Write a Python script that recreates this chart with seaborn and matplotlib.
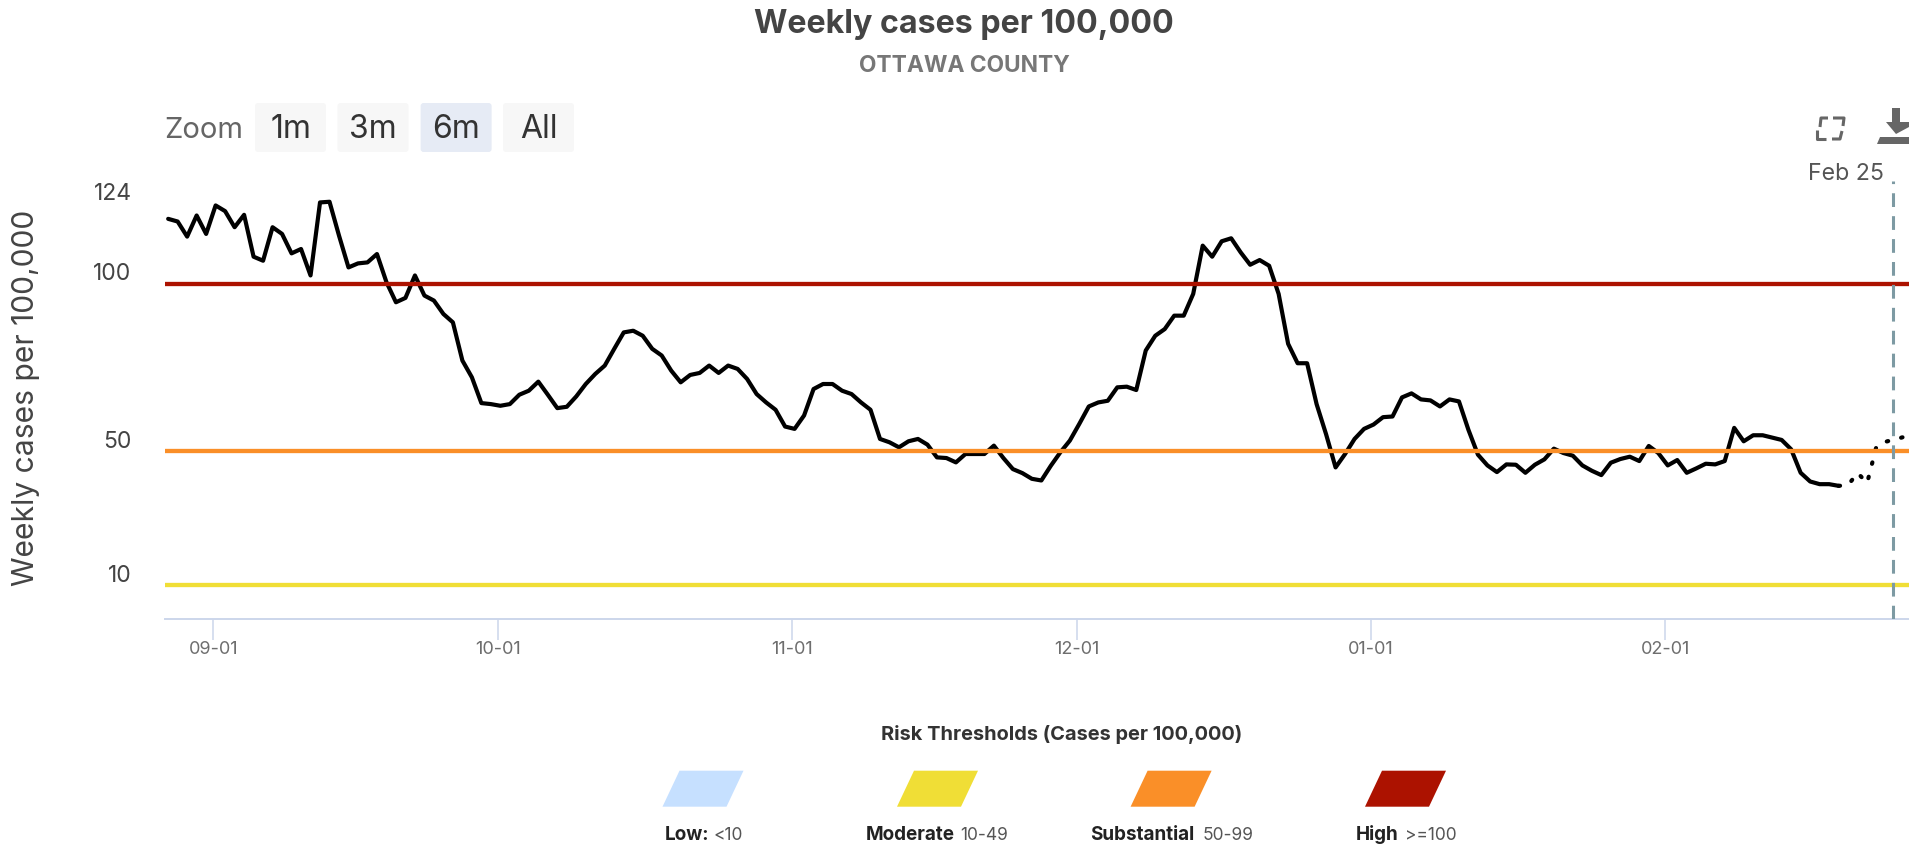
"""Weekly cases per 100,000 for Ottawa County, with risk thresholds."""

import matplotlib

matplotlib.use("Agg")

import matplotlib.dates as mdates
import matplotlib.pyplot as plt
import matplotlib.transforms as mtransforms
import pandas as pd
import seaborn as sns
from matplotlib.patches import FancyBboxPatch, Polygon

# daily values from Aug 27
cases = [
    119.3, 118.5, 114.0, 120.3, 114.8, 123.3, 121.6, 116.8, 120.5, 108.0,
    106.8, 116.8, 114.8, 109.0, 110.3, 102.4, 124.2, 124.4, 114.3, 104.8,
    106.0, 106.3, 108.8, 100.4, 94.4, 95.7, 102.4, 96.4, 94.9, 90.9,
    88.4, 77.0, 72.0, 64.3, 64.0, 63.5, 64.0, 66.8, 68.0, 70.7,
    66.8, 62.8, 63.2, 66.3, 70.0, 73.0, 75.5, 80.5, 85.4, 85.9,
    84.4, 80.5, 78.5, 74.0, 70.5, 72.7, 73.3, 75.5, 73.3, 75.5,
    74.5, 71.5, 67.0, 64.5, 62.3, 57.3, 56.6, 60.6, 68.5, 70.0,
    70.0, 68.0, 67.0, 64.5, 62.3, 53.6, 52.6, 51.1, 52.9, 53.6,
    51.9, 48.1, 47.9, 46.6, 49.1, 49.1, 49.1, 51.6, 47.9, 44.6,
    43.4, 41.7, 41.2, 45.6, 49.6, 53.1, 58.1, 63.3, 64.5, 65.0,
    69.0, 69.2, 68.2, 80.0, 84.4, 86.4, 90.4, 90.4, 96.9, 111.3,
    108.0, 112.6, 113.5, 109.3, 105.6, 107.0, 105.3, 96.9, 82.0, 76.2,
    76.2, 64.0, 55.0, 45.1, 49.1, 53.6, 56.6, 57.9, 60.1, 60.3,
    66.0, 67.2, 65.4, 65.1, 63.3, 65.4, 64.8, 56.3, 48.9, 45.7,
    43.7, 46.0, 45.9, 43.5, 45.9, 47.5, 50.7, 49.4, 48.6, 45.7,
    44.1, 42.8, 46.5, 47.6, 48.3, 47.0, 51.5, 49.4, 45.7, 47.3,
    43.5, 44.8, 46.2, 46.0, 47.0, 56.9, 52.9, 54.7, 54.7, 54.0,
    53.3, 50.5, 43.5, 40.9, 40.1, 40.1, 39.6,
]
projected = [39.6, 39.8, 43.5, 40.4, 51.5, 52.8, 53.5, 54.3]

threshold_values = [100, 50, 10]
threshold_colors = ["#ac1200", "#fa8f28", "#f0de36"]
y_ticks = [10, 50, 100, 124]
x_ticks = ["2020-09-01", "2020-10-01", "2020-11-01", "2020-12-01", "2021-01-01", "2021-02-01"]

zoom_buttons = ["1m", "3m", "6m", "All"]
legend_names = ["Low:", "Moderate", "Substantial", "High"]
legend_ranges = ["<10", "10-49", "50-99", ">=100"]
legend_colors = ["#c6e0ff", "#f0de36", "#fa8f28", "#ac1200"]

W, H = 1909, 844
AX_LEFT, AX_BOTTOM, AX_TOP = 165, 618.5, 181


def draw_chart(fig):
    ax = fig.add_axes([AX_LEFT / W, 1 - AX_BOTTOM / H, (W - AX_LEFT) / W, (AX_BOTTOM - AX_TOP) / H])

    solid = pd.DataFrame({
        "date": pd.date_range("2020-08-27 06:00", periods=len(cases)),
        "cases": cases,
    })
    dotted = pd.DataFrame({
        "date": pd.date_range(solid["date"].iloc[-1], periods=len(projected)),
        "cases": projected,
    })
    sns.lineplot(data=solid, x="date", y="cases", ax=ax, color="black", lw=3, zorder=2)
    sns.lineplot(
        data=dotted, x="date", y="cases", ax=ax, color="black", lw=3, zorder=2,
        linestyle=(0, (0.35, 3.2)), dash_capstyle="round",
    )

    for value, color in zip(threshold_values, threshold_colors):
        ax.axhline(value, color=color, lw=3.1, zorder=3)
    ax.axvline(pd.Timestamp("2021-02-25"), color="#7d9aa3", lw=2.2, linestyle=(0, (4.5, 3)), zorder=4)

    ax.set_xlim(pd.Timestamp("2020-08-26 22:00"), pd.Timestamp("2021-02-26 16:00"))
    ax.set_ylim(0, (AX_BOTTOM - AX_TOP) / 3.35)
    ax.set_xticks(pd.to_datetime(x_ticks))
    ax.xaxis.set_major_formatter(mdates.DateFormatter("%m-%d"))
    ax.set_yticks(y_ticks)
    ax.set_xlabel("")
    ax.set_ylabel("")
    ax.set_facecolor("none")

    sns.despine(ax=ax, left=True)
    ax.spines["bottom"].set_color("#ccd6eb")
    ax.spines["bottom"].set_linewidth(1.4)
    ax.tick_params(axis="x", bottom=True, length=15, width=1.1, color="#ccd6eb",
                   labelcolor="#6e6e6e", labelsize=13, pad=1)
    ax.tick_params(axis="y", length=0, labelcolor="#444444", labelsize=16.5, pad=24)

    # labels sit above their value, as in the original
    lift = mtransforms.ScaledTranslation(0, 12 / 100, fig.dpi_scale_trans)
    for label in ax.get_yticklabels():
        label.set_transform(label.get_transform() + lift)
    return ax


def draw_header(ui):
    ui.text(964, 24, "Weekly cases per 100,000", ha="center", va="center",
            fontsize=23.2, fontweight="bold", color="#444444")
    ui.text(964, 65.5, "OTTAWA COUNTY", ha="center", va="center",
            fontsize=16.4, fontweight="bold", color="#777777")
    ui.text(26, 398, "Weekly cases per 100,000", rotation=90, ha="center", va="center",
            fontsize=21.6, color="#444444")

    ui.text(164.5, 130, "Zoom", ha="left", va="center", fontsize=21, color="#666666")
    lefts = [255, 337.5, 420.6, 503]
    for left, name in zip(lefts, zoom_buttons):
        fill = "#e6ebf5" if name == "6m" else "#f7f7f7"
        ui.add_patch(FancyBboxPatch((left + 3, 106), 65, 43, boxstyle="round,pad=3", fc=fill, ec="none"))
        ui.text(left + 35.5, 130, name, ha="center", va="center", fontsize=23, color="#333333")

    ui.text(1884, 174, "Feb 25", ha="right", va="center", fontsize=16.7, color="#555555")


def draw_icons(ui):
    grey = "#666666"
    corners = [
        ([1820, 1821, 1828], [127, 118, 118]),
        ([1833, 1844, 1843], [118, 118, 126]),
        ([1817, 1817, 1826], [130, 139, 139]),
        ([1832, 1840, 1842], [139, 139, 131]),
    ]
    for xs, ys in corners:
        ui.plot(xs, ys, color=grey, lw=2.2, solid_capstyle="butt")
    ui.add_patch(Polygon([(1892, 108), (1900, 108), (1900, 122), (1909, 122), (1909, 127), (1896, 134), (1886, 122), (1892, 122)],
                         closed=True, fc=grey, ec="none"))
    ui.add_patch(Polygon([(1880, 137), (1909, 137), (1909, 144), (1877, 144)], closed=True, fc=grey, ec="none"))


def draw_legend(ui):
    ui.text(1062, 735, "Risk Thresholds (Cases per 100,000)", ha="center", va="center",
            fontsize=14.4, fontweight="bold", color="#333333")
    bottoms = [662.5, 897, 1130.6, 1365]
    name_x = [665.2, 866, 1090, 1356]
    range_x = [713.4, 960.3, 1202.4, 1404.9]
    for i, color in enumerate(legend_colors):
        b = bottoms[i]
        ui.add_patch(Polygon([(b + 17, 770.7), (b + 81, 770.7), (b + 64, 806.7), (b, 806.7)],
                             closed=True, fc=color, ec="none"))
        ui.text(name_x[i], 835, legend_names[i], ha="left", va="center",
                fontsize=13.6, fontweight="bold", color="#222222")
        ui.text(range_x[i], 835, legend_ranges[i], ha="left", va="center",
                fontsize=12.5, color="#555555")


def main():
    sns.set_theme(style="white")
    plt.rcParams["font.family"] = ["Inter", "DejaVu Sans"]

    fig = plt.figure(figsize=(W / 100, H / 100), dpi=100, facecolor="white")
    draw_chart(fig)

    ui = fig.add_axes([0, 0, 1, 1], facecolor="none")
    ui.set_xlim(0, W)
    ui.set_ylim(H, 0)
    ui.axis("off")
    draw_header(ui)
    draw_icons(ui)
    draw_legend(ui)

    fig.savefig("out.png", dpi=100)
    plt.close(fig)


if __name__ == "__main__":
    main()
